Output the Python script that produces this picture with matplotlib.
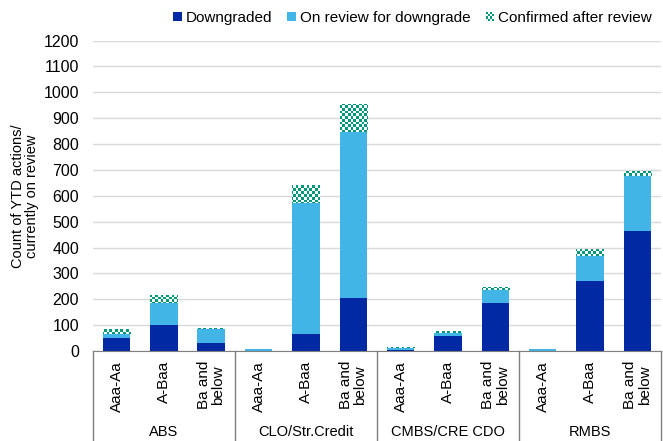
import numpy as np
import matplotlib
matplotlib.use("Agg")
import matplotlib.pyplot as plt
from matplotlib.patches import Patch, Rectangle
from matplotlib.legend_handler import HandlerBase

plt.rcParams["font.family"] = ["Liberation Sans", "DejaVu Sans"]

groups = ["ABS", "CLO/Str.Credit", "CMBS/CRE CDO", "RMBS"]
ratings = ["Aaa-Aa", "A-Baa", "Ba and\nbelow"]
categories = ratings * len(groups)

downgraded = [52, 100, 32, 1, 65, 205, 3, 60, 187, 1, 270, 464]
on_review = [15, 85, 52, 5, 507, 643, 10, 9, 47, 5, 97, 214]
confirmed = [17, 33, 5, 2, 70, 106, 2, 8, 14, 3, 26, 19]

c_down = "#0029A3"
c_review = "#41B6E6"
c_conf = "#00987A"


class CheckerHandler(HandlerBase):
    # small checkerboard square for the legend
    def create_artists(self, legend, orig_handle, xdescent, ydescent,
                       width, height, fontsize, trans):
        k = 4
        arts = []
        for i in range(k):
            for j in range(k):
                fc = c_conf if (i + j) % 2 else "white"
                arts.append(Rectangle((-xdescent + i * width / k,
                                       -ydescent + j * height / k),
                                      width / k, height / k, facecolor=fc,
                                      edgecolor="none", transform=trans))
        return arts


fig = plt.figure(figsize=(6.63, 4.41), dpi=100)
ax = fig.add_axes([0.140, 0.204, 0.857, 0.704])

x = np.arange(len(categories))
down = np.array(downgraded)
rev = np.array(on_review)
conf = np.array(confirmed)
w = 0.58

ax.bar(x, down, w, color=c_down, zorder=2)
ax.bar(x, rev, w, bottom=down, color=c_review, zorder=2)
conf_bars = ax.bar(x, conf, w, bottom=down + rev, facecolor="none",
                   edgecolor="none", zorder=2)

# checkered fill for "confirmed after review"
ymax = 1200
nx, ny = 210, 115
ii, jj = np.meshgrid(np.arange(nx), np.arange(ny))
checker = (ii + jj) % 2
img = np.ones((ny, nx, 3))
img[checker == 1] = matplotlib.colors.to_rgb(c_conf)
for bar in conf_bars:
    im = ax.imshow(img, extent=(-0.5, len(x) - 0.5, 0, ymax), aspect="auto",
                   interpolation="nearest", zorder=3)
    im.set_clip_path(bar)

fs = 11

ax.set_xlim(-0.5, len(x) - 0.5)
ax.set_ylim(0, ymax)
ax.set_yticks(np.arange(0, ymax + 1, 100))
ax.tick_params(axis="y", length=0, labelsize=11.5, pad=10, colors="#000000")
ax.yaxis.grid(True, color="#D9D9D9", linewidth=1)
ax.set_axisbelow(True)
for s in ["left", "right", "top"]:
    ax.spines[s].set_visible(False)
ax.spines["bottom"].set_color("#7F7F7F")

ax.set_xticks(x)
ax.set_xticklabels([])
ax.tick_params(axis="x", length=0)
for xi, lab in zip(x, categories):
    ax.text(xi, -0.032, lab, transform=ax.get_xaxis_transform(), rotation=90,
            ha="center", va="top", fontsize=fs, multialignment="center",
            linespacing=1.05)

n = len(ratings)
for gi, g in enumerate(groups):
    ax.text(gi * n + (n - 1) / 2, -0.262, g, transform=ax.get_xaxis_transform(),
            ha="center", va="center", fontsize=10.5)
for gi in range(len(groups) + 1):
    ax.plot([gi * n - 0.5] * 2, [0, -0.3], transform=ax.get_xaxis_transform(),
            color="#7F7F7F", linewidth=1, clip_on=False)

ax.set_ylabel("Count of YTD actions/\ncurrently on review", fontsize=10.5,
              linespacing=1.05)
ax.yaxis.set_label_coords(-0.094, 0.5)

conf_handle = Patch(label="Confirmed after review")
handles = [
    Patch(facecolor=c_down, edgecolor="none", label="Downgraded"),
    Patch(facecolor=c_review, edgecolor="none", label="On review for downgrade"),
    conf_handle,
]
fig.legend(handles=handles, loc="center right", bbox_to_anchor=(0.992, 0.96),
           ncol=3, frameon=False, fontsize=fs, handlelength=0.55,
           handleheight=0.55, handletextpad=0.25, columnspacing=1.0,
           borderaxespad=0, handler_map={conf_handle: CheckerHandler()})

fig.savefig("out.png", dpi=100)
